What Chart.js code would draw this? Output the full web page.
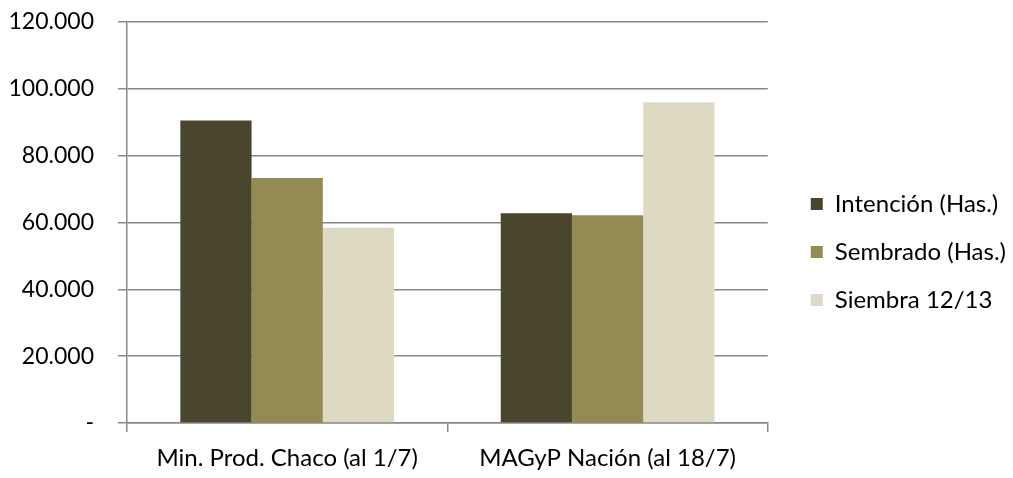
<!DOCTYPE html>
<html>
<head>
<meta charset="utf-8">
<script src="https://cdn.jsdelivr.net/npm/chart.js@4.4.0/dist/chart.umd.min.js"></script>
<style>
  html, body { margin: 0; padding: 0; background: #fff; }
  #wrap { width: 1013px; height: 478px; }
</style>
</head>
<body>
<div id="wrap"><canvas id="chart"></canvas></div>
<script>
// Datos
const categorias = ["Min. Prod. Chaco (al 1/7)", "MAGyP Nación (al 18/7)"];
const intencion = [90500, 62800];
const sembrado = [73350, 62200];
const siembra1213 = [58400, 96000];

const fuente = "Lato, 'Open Sans', sans-serif";

// Formato con punto de miles, cero como "-"
function formato(v) {
  if (v === 0) return "-";
  return v.toString().replace(/\B(?=(\d{3})+(?!\d))/g, ".");
}

// Ajustar la posición de la leyenda
const moverLeyenda = {
  id: "moverLeyenda",
  afterLayout(chart) {
    const l = chart.legend;
    l.top += 2;
    l.bottom += 2;
    l.left += 19;
    l.right += 19;
  }
};

const ctx = document.getElementById("chart").getContext("2d");
const chart = new Chart(ctx, {
  type: "bar",
  data: {
    labels: categorias,
    datasets: [
      { label: "Intención (Has.)", data: intencion, backgroundColor: "#4a452d" },
      { label: "Sembrado (Has.)", data: sembrado, backgroundColor: "#948a54" },
      { label: "Siembra 12/13", data: siembra1213, backgroundColor: "#ddd9c3" }
    ]
  },
  plugins: [moverLeyenda],
  options: {
    responsive: true,
    maintainAspectRatio: false,
    animation: false,
    layout: { padding: { top: 22, right: 16, bottom: 0, left: 0 } },
    datasets: { bar: { barPercentage: 1, categoryPercentage: 0.667 } },
    plugins: {
      legend: {
        position: "right",
        labels: {
          font: { family: fuente, size: 24 },
          color: "#000",
          boxWidth: 12,
          boxHeight: 12,
          padding: 24
        }
      },
      tooltip: { enabled: false }
    },
    scales: {
      x: {
        grid: { offset: true, drawOnChartArea: false, tickLength: 9, color: "#888", lineWidth: 1.5 },
        border: { color: "#888", width: 1.5 },
        ticks: { font: { family: fuente, size: 24 }, color: "#000", padding: 12 },
        afterFit: s => { s.height = 55; }
      },
      y: {
        min: 0,
        max: 120000,
        grid: { color: "#888", tickLength: 9, lineWidth: 1.5 },
        border: { color: "#888", width: 1.5 },
        ticks: {
          stepSize: 20000,
          font: { family: fuente, size: 23 },
          color: "#000",
          padding: 24,
          callback: v => formato(v)
        },
        afterFit: s => { s.width = 127; s.paddingTop = 0; s.paddingBottom = 0; }
      }
    }
  }
});
</script>
</body>
</html>
